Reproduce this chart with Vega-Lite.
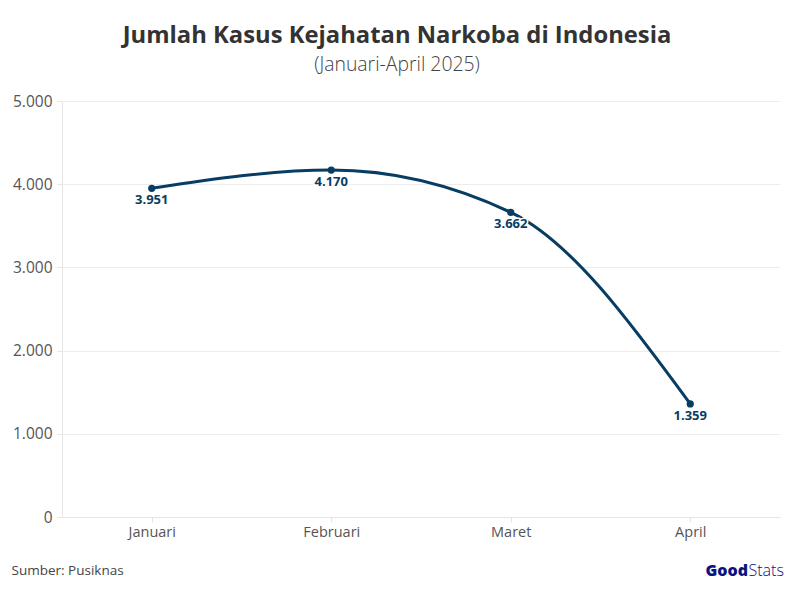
{
  "$schema": "https://vega.github.io/schema/vega-lite/v6.json",
  "width": 718,
  "height": 416,
  "autosize": "none",
  "padding": {"left": 62, "right": 14, "top": 101, "bottom": 75},
  "background": "white",
  "config": {
    "font": "Open Sans",
    "view": {"stroke": null},
    "locale": {"number": {"decimal": ",", "thousands": ".", "grouping": [3], "currency": ["Rp", ""]}}
  },
  "title": {
    "text": "Jumlah Kasus Kejahatan Narkoba di Indonesia",
    "subtitle": "(Januari-April 2025)",
    "anchor": "middle",
    "frame": "group",
    "dx": -24,
    "font": "Open Sans",
    "fontSize": 23.8,
    "fontWeight": "bold",
    "color": "#333333",
    "subtitleFont": "Open Sans",
    "subtitleFontSize": 19.4,
    "subtitleFontWeight": 300,
    "subtitleColor": "#444444",
    "subtitlePadding": 8,
    "offset": 20
  },
  "data": {
    "values": [
      {"bulan": "Januari", "kasus": 3951},
      {"bulan": "Februari", "kasus": 4170},
      {"bulan": "Maret", "kasus": 3662},
      {"bulan": "April", "kasus": 1359}
    ]
  },
  "resolve": {"axis": {"y": "independent"}},
  "encoding": {
    "x": {
      "field": "bulan",
      "type": "nominal",
      "sort": ["Januari", "Februari", "Maret", "April"],
      "scale": {"type": "point", "padding": 0.5},
      "axis": {
        "title": "Sumber: Pusiknas",
        "titleFont": "Open Sans",
        "titleFontSize": 13.5,
        "titleFontWeight": "normal",
        "titleColor": "#444444",
        "titleAnchor": "start",
        "titleAlign": "left",
        "titleX": -51,
        "titleY": 46,
        "labelAngle": 0,
        "labelFontSize": 14.5,
        "labelColor": "#555555",
        "labelPadding": 3,
        "domain": true,
        "domainColor": "#e6e6e6",
        "ticks": true,
        "tickColor": "#e6e6e6",
        "tickSize": 5,
        "grid": false
      }
    },
    "y": {
      "field": "kasus",
      "type": "quantitative",
      "scale": {"domain": [0, 5000]},
      "axis": null
    }
  },
  "layer": [
    {
      "mark": {"type": "line", "interpolate": "monotone", "color": "#083d63", "strokeWidth": 3},
      "encoding": {
        "y": {
          "field": "kasus",
          "type": "quantitative",
          "scale": {"domain": [0, 5000]},
          "axis": {
            "title": "Good",
            "titleFont": "Open Sans",
            "titleFontSize": 16,
            "titleFontWeight": 800,
            "titleColor": "#0b1280",
            "titleAngle": 0,
            "titleAlign": "left",
            "titleX": 643,
            "titleY": 477,
            "values": [0, 1000, 2000, 3000, 4000, 5000],
            "format": ",d",
            "labelFontSize": 15.5,
            "labelColor": "#555555",
            "labelPadding": 5,
            "domain": true,
            "domainColor": "#e6e6e6",
            "ticks": true,
            "tickColor": "#e6e6e6",
            "tickSize": 5,
            "gridColor": "#ececec"
          }
        }
      }
    },
    {
      "mark": {"type": "point", "filled": true, "opacity": 1, "size": 52, "color": "#083d63"},
      "encoding": {
        "y": {
          "field": "kasus",
          "type": "quantitative",
          "scale": {"domain": [0, 5000]},
          "axis": {
            "orient": "right",
            "title": "Stats",
            "titleFont": "Open Sans",
            "titleFontSize": 16,
            "titleFontWeight": 300,
            "titleColor": "#0b1280",
            "titleAngle": 0,
            "titleAlign": "left",
            "titleX": -32,
            "titleY": 477,
            "labels": false,
            "ticks": false,
            "domain": false,
            "grid": false
          }
        }
      }
    },
    {
      "mark": {"type": "text", "baseline": "top", "dy": 6, "fontSize": 13, "fontWeight": "bold", "color": "#083d63", "stroke": "white", "strokeWidth": 3},
      "encoding": {"text": {"field": "kasus", "type": "quantitative", "format": ",d"}}
    },
    {
      "mark": {"type": "text", "baseline": "top", "dy": 6, "fontSize": 13, "fontWeight": "bold", "color": "#083d63"},
      "encoding": {"text": {"field": "kasus", "type": "quantitative", "format": ",d"}}
    }
  ]
}
